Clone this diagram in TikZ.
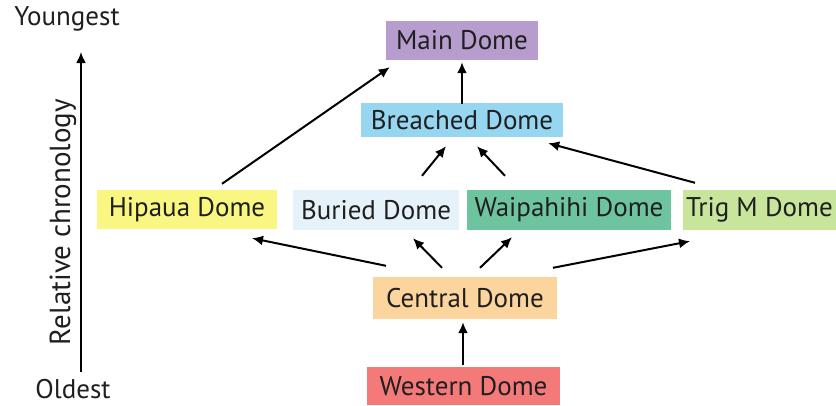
\documentclass[tikz,border=0pt]{standalone}
\usepackage{fontspec}
\setmainfont{PT Sans}
\usetikzlibrary{arrows.meta}
\definecolor{cmain}{RGB}{183,157,206}
\definecolor{cbreach}{RGB}{150,214,240}
\definecolor{chip}{RGB}{250,246,130}
\definecolor{cbur}{RGB}{230,242,250}
\definecolor{cwai}{RGB}{110,196,158}
\definecolor{ctrig}{RGB}{200,230,155}
\definecolor{ccen}{RGB}{252,212,158}
\definecolor{cwest}{RGB}{244,122,122}
\begin{document}
\begin{tikzpicture}[x=1pt,y=-1pt,
  box/.style={inner sep=0pt, font=\fontsize{27}{30}\selectfont, text=black!88},
  arr/.style={line width=2pt, -{Latex[length=11pt,width=10pt]}},
  lbl/.style={font=\fontsize{27}{30}\selectfont, text=black!88}]
\useasboundingbox (0,0) rectangle (836,405);
\node[box, fill=cmain, minimum width=152pt, minimum height=39pt] (main) at (462,40.5) {Main Dome};
\node[box, fill=cbreach, minimum width=202pt, minimum height=34pt] (breach) at (462,120) {Breached Dome};
\node[box, fill=chip, minimum width=180pt, minimum height=39pt] (hip) at (187,209.5) {Hipaua Dome};
\node[box, fill=cbur, minimum width=166pt, minimum height=40pt] (bur) at (376,210) {Buried Dome};
\node[box, fill=cwai, minimum width=204pt, minimum height=40pt] (wai) at (569,210) {Waipahihi Dome};
\node[box, fill=ctrig, minimum width=153pt, minimum height=40pt] (trig) at (759.5,210) {Trig M Dome};
\node[box, fill=ccen, minimum width=184pt, minimum height=42pt] (cen) at (465,298) {Central Dome};
\node[box, fill=cwest, minimum width=193pt, minimum height=38pt] (west) at (463.5,386) {Western Dome};
\node[lbl] (young) at (67,19) {Youngest};
\node[lbl] (old) at (73,389) {Oldest};
\coordinate (abot) at (81,372);
\coordinate (atop) at (81,52);
\draw[arr] (abot) -- (atop);
\node[lbl, rotate=90, font=\fontsize{29}{32}\selectfont] (rel) at (63,222) {Relative chronology};
\draw[arr] ([shift={(35,-6)}]hip.north) -- ([shift={(4,7)}]main.south west);
\draw[arr] ([yshift=-1pt]breach.north) -- ([yshift=-2pt]main.south);
\draw[arr] ([shift={(46,-14)}]bur.north) -- ([shift={(-16,9)}]breach.south);
\draw[arr] ([shift={(-64,-14)}]wai.north) -- ([shift={(15,9)}]breach.south);
\draw[arr] ([shift={(-64.5,-7)}]trig.north) -- ([shift={(-15,6)}]breach.south east);
\draw[arr] ([shift={(-79,-11)}]cen.north) -- ([shift={(65,9)}]hip.south);
\draw[arr] ([shift={(-23,-9)}]cen.north) -- ([shift={(37,8)}]bur.south);
\draw[arr] ([shift={(15,-9)}]cen.north) -- ([shift={(-57,7)}]wai.south);
\draw[arr] ([shift={(88,-9)}]cen.north) -- ([shift={(-69.5,11)}]trig.south);
\draw[arr] ([shift={(-0.5,-2)}]west.north) -- ([shift={(-2,3)}]cen.south);
\end{tikzpicture}
\end{document}
